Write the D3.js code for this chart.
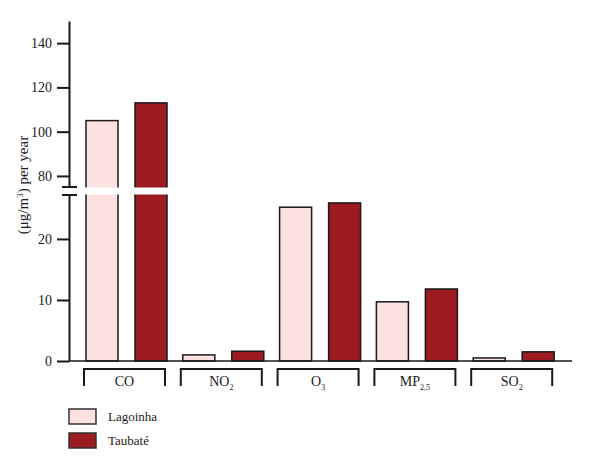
<!DOCTYPE html>
<html>
<head>
<meta charset="utf-8">
<script src="https://cdnjs.cloudflare.com/ajax/libs/d3/7.8.5/d3.min.js"></script>
<style>
  body { margin: 0; background: #fff; }
  svg { display: block; font-family: "Liberation Serif", "DejaVu Serif", serif; }
</style>
</head>
<body>
<div id="chart"></div>
<script>
// data
var pollutants = ["CO", "NO2", "O3", "MP25", "SO2"];
var labelMain = { CO: "CO", NO2: "NO", O3: "O", MP25: "MP", SO2: "SO" };
var labelSub = { CO: "", NO2: "2", O3: "3", MP25: "2,5", SO2: "2" };
var sites = ["Lagoinha", "Taubaté"];
var lagoinha = [105, 1.0, 25.2, 9.7, 0.5];
var taubate = [113, 1.6, 25.9, 11.8, 1.5];
var colors = { "Lagoinha": "#fde0e0", "Taubaté": "#9c1b21" };
var lowTicks = [0, 10, 20];
var highTicks = [80, 100, 120, 140];

var width = 600, height = 471;
var svg = d3.select("#chart").append("svg")
  .attr("width", width).attr("height", height);

var axisX = 69, baseY = 361;

// broken y axis: two linear pieces
var yLow = d3.scaleLinear().domain([0, 27.2]).range([baseY, 195]);
var yHigh = d3.scaleLinear().domain([75, 150]).range([187, 21]);
function y(v) { return v <= 27.2 ? yLow(v) : yHigh(v); }

var x0 = d3.scaleBand().domain(pollutants).range([78, 562]);
var x1 = d3.scaleBand().domain(sites).range([8, 89]).paddingInner(17 / 49);

var rows = pollutants.map(function (p, i) {
  return { key: p, values: [{ site: "Lagoinha", v: lagoinha[i] }, { site: "Taubaté", v: taubate[i] }] };
});

// bars
var groups = svg.append("g").selectAll("g")
  .data(rows).enter().append("g")
  .attr("transform", function (d) { return "translate(" + x0(d.key) + ",0)"; });

groups.selectAll("rect")
  .data(function (d) { return d.values; })
  .enter().append("rect")
  .attr("x", function (d) { return x1(d.site); })
  .attr("width", x1.bandwidth())
  .attr("y", function (d) { return y(d.v); })
  .attr("height", function (d) { return baseY - y(d.v); })
  .attr("fill", function (d) { return colors[d.site]; })
  .attr("stroke", "#1a1a1a")
  .attr("stroke-width", 1.5);

// x baseline
svg.append("line")
  .attr("x1", axisX).attr("x2", 572)
  .attr("y1", baseY).attr("y2", baseY)
  .attr("stroke", "#1a1a1a").attr("stroke-width", 1.3);

// y axis pieces
var gLow = svg.append("g")
  .attr("transform", "translate(" + axisX + ",0)")
  .call(d3.axisLeft(yLow).tickValues(lowTicks).tickSize(12).tickSizeOuter(0).tickPadding(5));
var gHigh = svg.append("g")
  .attr("transform", "translate(" + axisX + ",0)")
  .call(d3.axisLeft(yHigh).tickValues(highTicks).tickSize(12).tickSizeOuter(0).tickPadding(5));

[gLow, gHigh].forEach(function (g) {
  g.select(".domain").attr("stroke", "#1a1a1a").attr("stroke-width", 2);
  g.selectAll(".tick line").attr("stroke", "#1a1a1a").attr("stroke-width", 2);
  g.selectAll(".tick text")
    .attr("fill", "#1a1a1a")
    .style("font-family", "Liberation Serif, serif")
    .style("font-size", "14px");
});

// break: white gap through bars, then the two marks
svg.append("rect")
  .attr("x", 60).attr("y", 187.5)
  .attr("width", 520).attr("height", 7)
  .attr("fill", "#fff");
[187, 195].forEach(function (yy) {
  svg.append("line")
    .attr("x1", 62).attr("x2", 77)
    .attr("y1", yy).attr("y2", yy)
    .attr("stroke", "#1a1a1a").attr("stroke-width", 2);
});

// category brackets
var br = svg.append("g").selectAll("g")
  .data(pollutants).enter().append("g")
  .attr("transform", function (d) { return "translate(" + x0(d) + ",0)"; });

br.append("path")
  .attr("d", function () {
    var a = x1("Lagoinha") - 2, b = x1("Taubaté") + x1.bandwidth() - 2;
    return "M" + a + ",386V369H" + b + "V386";
  })
  .attr("fill", "none")
  .attr("stroke", "#1a1a1a")
  .attr("stroke-width", 2);

var lbl = br.append("text")
  .attr("x", (x1("Lagoinha") + x1("Taubaté") + x1.bandwidth()) / 2 - 2)
  .attr("y", 386)
  .attr("text-anchor", "middle")
  .style("font-size", "14px")
  .attr("fill", "#1a1a1a");
lbl.append("tspan").text(function (d) { return labelMain[d]; });
lbl.append("tspan")
  .attr("dy", 4)
  .style("font-size", "8px")
  .text(function (d) { return labelSub[d]; });

// y label
var yl = svg.append("text")
  .attr("transform", "translate(28,185)rotate(-90)")
  .attr("text-anchor", "middle")
  .style("font-size", "15px")
  .attr("fill", "#1a1a1a");
yl.append("tspan").text("(μg/m");
yl.append("tspan").attr("dy", -5).style("font-size", "9px").text("3");
yl.append("tspan").attr("dy", 5).text(") per year");

// legend
var leg = svg.append("g").selectAll("g")
  .data(sites).enter().append("g")
  .attr("transform", function (d, i) { return "translate(69," + (409 + i * 24) + ")"; });
leg.append("rect")
  .attr("width", 27).attr("height", 15)
  .attr("fill", function (d) { return colors[d]; })
  .attr("stroke", "#333").attr("stroke-width", 1.5);
leg.append("text")
  .attr("x", 39).attr("y", 12)
  .style("font-size", "13px")
  .attr("fill", "#1a1a1a")
  .text(function (d) { return d; });
</script>
</body>
</html>
